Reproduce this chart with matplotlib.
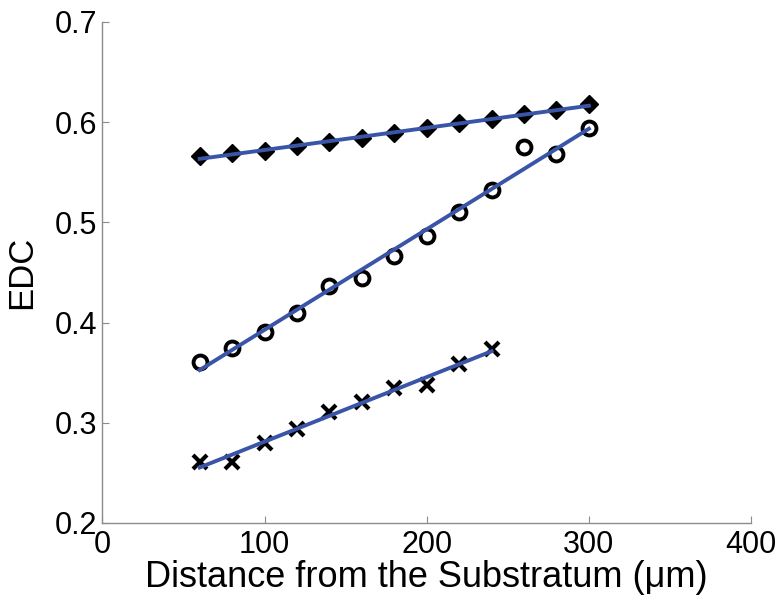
import numpy as np
import matplotlib
matplotlib.use("Agg")
import matplotlib.pyplot as plt

plt.rcParams["font.family"] = ["Liberation Sans", "DejaVu Sans"]

# distance from substratum (um)
dist_full = [60, 80, 100, 120, 140, 160, 180, 200, 220, 240, 260, 280, 300]
dist_short = [60, 80, 100, 120, 140, 160, 180, 200, 220, 240]

# EDC values per series
edc_diamond = [0.566, 0.569, 0.571, 0.576, 0.580, 0.584, 0.589, 0.594,
               0.599, 0.603, 0.608, 0.612, 0.618]
edc_circle = [0.361, 0.375, 0.391, 0.410, 0.437, 0.445, 0.466, 0.486,
              0.510, 0.532, 0.575, 0.568, 0.594]
edc_cross = [0.261, 0.261, 0.280, 0.294, 0.311, 0.321, 0.335, 0.338,
             0.359, 0.374]

BLUE = "#3a55a8"
GRAY = "#8c8c8c"

fig = plt.figure(figsize=(7.78, 6.01), dpi=100)
ax = fig.add_axes([0.1317, 0.1298, 0.8336, 0.8336])

series = [
    (dist_full, edc_diamond, dict(marker="D", ms=9, mfc="black", mec="black")),
    (dist_full, edc_circle, dict(marker="o", ms=10, mfc="none", mec="black", mew=2.8)),
    (dist_short, edc_cross, dict(marker="x", ms=9.5, mec="black", mew=3)),
]

for xs, ys, mk in series:
    xs = np.array(xs, dtype=float)
    ys = np.array(ys, dtype=float)
    ax.plot(xs, ys, ls="none", zorder=2, **mk)
    k, b = np.polyfit(xs, ys, 1)
    ax.plot([xs[0], xs[-1]], [k * xs[0] + b, k * xs[-1] + b],
            color=BLUE, lw=2.8, zorder=3)

ax.set_xlim(0, 400)
ax.set_ylim(0.2, 0.7)
ax.set_xticks([0, 100, 200, 300, 400])
ax.set_yticks([0.2, 0.3, 0.4, 0.5, 0.6, 0.7])
ax.set_yticklabels(["0.2", "0.3", "0.4", "0.5", "0.6", "0.7"])

for s in ["top", "right"]:
    ax.spines[s].set_visible(False)
for s in ["left", "bottom"]:
    ax.spines[s].set_color(GRAY)
    ax.spines[s].set_linewidth(1.0)

ax.tick_params(direction="in", length=5, width=0.8, color=GRAY,
               labelsize=22)
ax.tick_params(axis="y", pad=4)
ax.tick_params(axis="x", pad=5)

ax.set_xlabel("Distance from the Substratum (\u03bcm)", fontsize=26, labelpad=0)
ax.set_ylabel("EDC", fontsize=25, labelpad=12)

fig.savefig("out.png", dpi=100, facecolor="white")
